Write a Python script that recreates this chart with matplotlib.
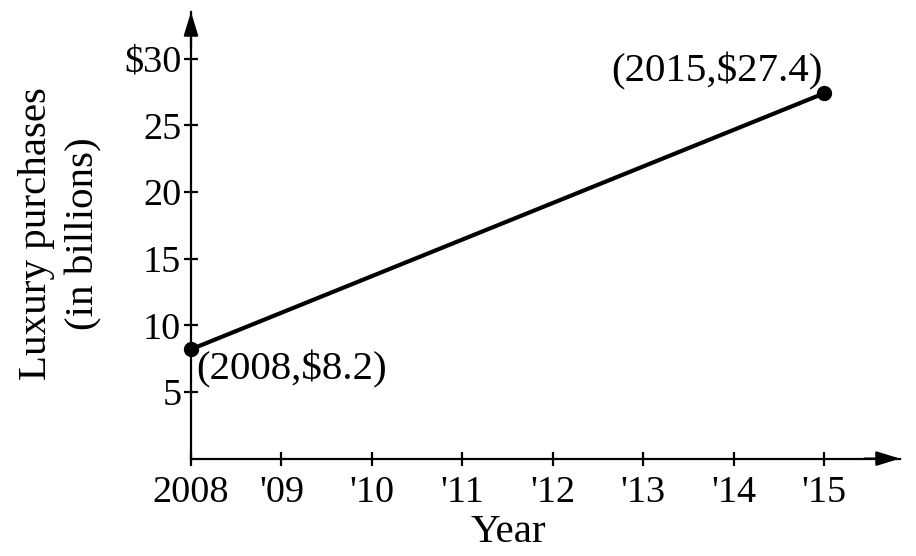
import matplotlib.pyplot as plt

plt.rcParams['font.family'] = ['Liberation Serif', 'DejaVu Serif']

years = [2008, 2015]
values = [8.2, 27.4]
xtick_vals = [2008, 2009, 2010, 2011, 2012, 2013, 2014, 2015]
xtick_labels = ["2008", "'09", "'10", "'11", "'12", "'13", "'14", "'15"]
ytick_vals = [5, 10, 15, 20, 25, 30]
ytick_labels = ["5", "10", "15", "20", "25", "$30"]
point_labels = ["(2008,$8.2)", "(2015,$27.4)"]

W, H = 916, 556
fig = plt.figure(figsize=(W / 100, H / 100), dpi=100)

# axis origin at pixel (191, 458.6); arrows end at x=900, y=12
x0, y0 = 191, 458.6
x1, y1 = 900, 12
ax = fig.add_axes([x0 / W, (H - y0) / H, (x1 - x0) / W, (y0 - y1) / H])
ax.set_xlim(2008, 2015.84)
ax.set_ylim(0, 33.5)

for s in ['top', 'right']:
    ax.spines[s].set_visible(False)
for s in ['left', 'bottom']:
    ax.spines[s].set_linewidth(1.6)

# arrow heads
head = '-|>,head_length=0.65,head_width=0.2'
ax.annotate('', xy=(1.0, 0), xycoords='axes fraction', xytext=(0.95, 0),
            arrowprops=dict(arrowstyle=head, color='black', lw=1.6,
                            mutation_scale=22, shrinkA=0, shrinkB=0))
ax.annotate('', xy=(0, 1.0), xycoords='axes fraction', xytext=(0, 0.92),
            arrowprops=dict(arrowstyle=head, color='black', lw=1.6,
                            mutation_scale=22, shrinkA=0, shrinkB=0))

ax.set_xticks(xtick_vals)
ax.set_xticklabels(xtick_labels, fontsize=27.5)
ax.set_yticks(ytick_vals)
ax.set_yticklabels(ytick_labels, fontsize=27.5)
ax.tick_params(direction='inout', length=10, width=1.6)
ax.tick_params(axis='x', pad=7)
ax.tick_params(axis='y', pad=2)

ax.plot(years, values, color='black', lw=3, marker='o', markersize=10,
        clip_on=False, zorder=5)

ax.annotate(point_labels[0], xy=(years[0], values[0]), xytext=(4, -1),
            textcoords='offset points', fontsize=29.5, ha='left', va='top')
ax.annotate(point_labels[1], xy=(years[1], values[1]), xytext=(-1, 2),
            textcoords='offset points', fontsize=29.5, ha='right', va='bottom')

fig.text(60 / W, 1 - 234 / H, "Luxury purchases\n(in billions)", fontsize=29.5,
         rotation=90, ha='center', va='center', linespacing=1.35)
fig.text(508 / W, 1 - 533 / H, "Year", fontsize=29.5, ha='center', va='center')

fig.savefig('out.png', dpi=100)
